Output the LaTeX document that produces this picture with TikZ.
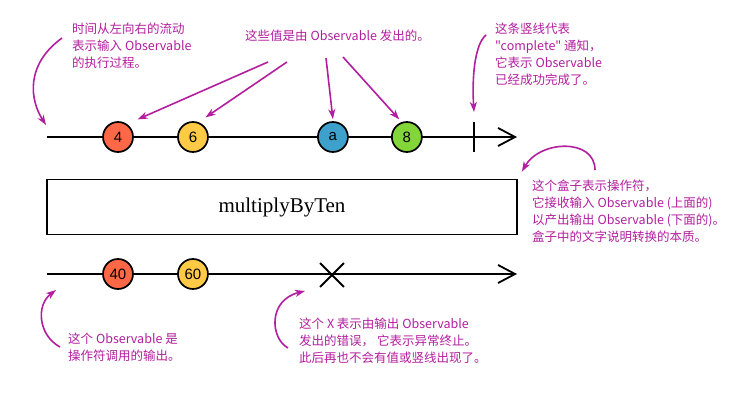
\documentclass[tikz,border=0pt]{standalone}
\usepackage{fontspec}
\setmainfont{Liberation Serif}
\newfontfamily\cjk{Noto Sans CJK SC}
\newfontfamily\marblefont{Liberation Sans}
\usetikzlibrary{arrows.meta,shapes.misc,positioning}

\definecolor{notecolor}{RGB}{178,30,158}
\definecolor{redmarble}{RGB}{255,104,70}
\definecolor{yellowmarble}{RGB}{255,203,70}
\definecolor{bluemarble}{RGB}{62,161,203}
\definecolor{greenmarble}{RGB}{130,214,55}

\tikzstyle{marble} = [circle, draw=black, line width=1.7pt, minimum size=30pt, inner sep=0pt, font=\marblefont\fontsize{15}{15}\selectfont]
\tikzstyle{timeline} = [line width=1.8pt, -{Straight Barb[length=17pt,width=18pt,line width=1.8pt]}]
\tikzstyle{operator} = [rectangle, draw=black, line width=1.8pt, minimum width=470pt, minimum height=55pt, font=\fontsize{21}{25}\selectfont]
\tikzstyle{note} = [text=notecolor, align=left, inner sep=0pt, anchor=north west, font=\cjk\fontsize{12.5}{17}\selectfont]
\tikzstyle{pointer} = [notecolor, line width=1.6pt, -{Stealth[length=10pt,width=7pt,inset=3pt]}]

\begin{document}
\begin{tikzpicture}[x=1pt, y=-1pt]
  \useasboundingbox (0,0) rectangle (735,419);

  % input observable
  \coordinate (Input Start) at (47,137);
  \coordinate (Input End) at (517,137);
  \coordinate (Complete) at (474,137);
  \draw [timeline] (Input Start) -- (Input End);
  \draw [line width=1.8pt] ([yshift=15pt]Complete) -- ([yshift=-15pt]Complete);
  \node (Four) [marble, fill=redmarble] at (118,137) {4};
  \node (Six) [marble, fill=yellowmarble, right of=Four, xshift=46.5pt] {6};
  \node (A) [marble, fill=bluemarble, right of=Six, xshift=111.5pt] {a};
  \node (Eight) [marble, fill=greenmarble, right of=A, xshift=45.5pt] {8};

  % operator
  \node (Operator) [operator] at (282,207) {multiplyByTen};

  % output observable
  \coordinate (Output Start) at (47,274);
  \coordinate (Output End) at (517,274);
  \draw [timeline] (Output Start) -- (Output End);
  \node (Forty) [marble, fill=redmarble] at (118,274) {40};
  \node (Sixty) [marble, fill=yellowmarble, right of=Forty, xshift=46.5pt] {60};
  \node (Error) [cross out, draw=black, line width=1.8pt, minimum size=22pt, inner sep=0pt] at (332,275) {};

  % notes
  \node (Time Note) [note] at (72,23) {时间从左向右的流动\\表示输入 Observable\\的执行过程。};
  \node (Values Note) [note, anchor=west] at (245,36) {这些值是由 Observable 发出的。};
  \node (Complete Note) [note] at (495,23) {这条竖线代表\\"complete" 通知，\\它表示 Observable\\已经成功完成了。};
  \node (Operator Note) [note] at (532,180) {这个盒子表示操作符，\\它接收输入 Observable (上面的)\\以产出输出 Observable (下面的)。\\盒子中的文字说明转换的本质。};
  \node (Output Note) [note] at (68,333) {这个 Observable 是\\操作符调用的输出。};
  \node (Error Note) [note] at (299,318) {这个 X 表示由输出 Observable\\发出的错误， 它表示异常终止。\\此后再也不会有值或竖线出现了。};

  % pointers
  \coordinate (Time Tail) at (62,38);
  \coordinate (Values Tail 1) at (268,62);
  \coordinate (Values Tail 2) at (287,62);
  \coordinate (Values Tail 3) at (326,58);
  \coordinate (Values Tail 4) at (343,57);
  \coordinate (Complete Tail) at (486,35);
  \coordinate (Operator Tail) at (595,170);
  \coordinate (Output Tail) at (60,347);
  \coordinate (Error Tail) at (288,348);

  \draw [pointer] (Time Tail) .. controls (25,65) and (30,100) .. ([shift={(-1pt,12pt)}]Input Start);
  \draw [pointer] (Values Tail 1) -- ([shift={(8.4pt,6.4pt)}]Four.north east);
  \draw [pointer] (Values Tail 2) -- ([shift={(1.4pt,8.4pt)}]Six.north east);
  \draw [pointer] (Values Tail 3) -- ([yshift=2pt]A.north);
  \draw [pointer] (Values Tail 4) -- ([shift={(3.6pt,6.4pt)}]Eight.north west);
  \draw [pointer] (Complete Tail) .. controls (474,45) and (472,80) .. ([yshift=25pt]Complete);
  \draw [pointer] (Operator Tail) .. controls (595,138) and (540,140) .. ([shift={(4pt,7pt)}]Operator.north east);
  \draw [pointer] (Output Tail) .. controls (38,335) and (36,305) .. ([shift={(9pt,-16pt)}]Output Start);
  \draw [pointer] (Error Tail) .. controls (270,338) and (268,300) .. ([shift={(-27pt,-16pt)}]Error.center);
\end{tikzpicture}
\end{document}
